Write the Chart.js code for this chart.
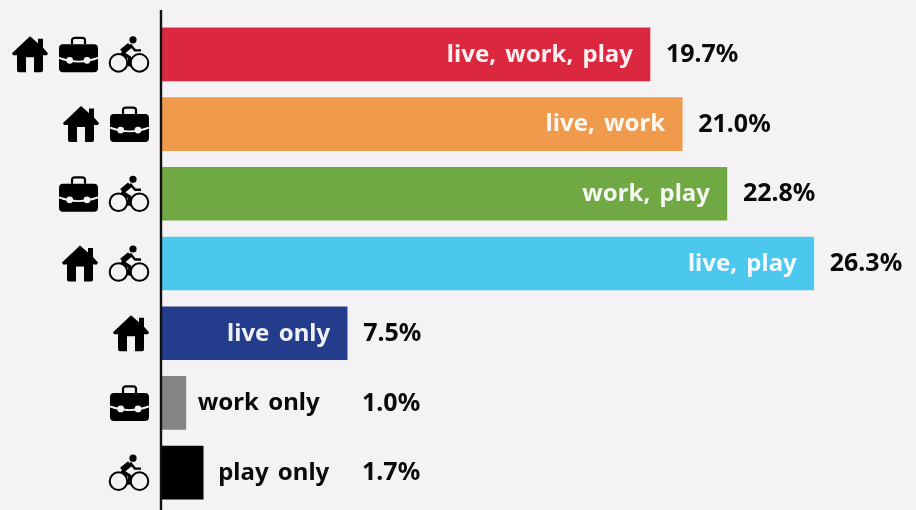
<!DOCTYPE html>
<html>
<head>
<meta charset="utf-8">
<script src="https://cdn.jsdelivr.net/npm/chart.js@4/dist/chart.umd.min.js"></script>
<style>
html, body { margin: 0; padding: 0; background: #f4f2f4; }
#wrap { width: 916px; height: 510px; position: relative; }
</style>
</head>
<body>
<div id="wrap"><canvas id="chart"></canvas></div>
<script>
const labels = ['live, work, play', 'live, work', 'work, play', 'live, play', 'live only', 'work only', 'play only'];
const values = [19.7, 21.0, 22.8, 26.3, 7.5, 1.0, 1.7];
const colors = ['#dc283e', '#f09a4b', '#70a944', '#4cc8ee', '#243c8c', '#838583', '#000000'];
const rowIcons = [['house', 'case', 'bike'], ['house', 'case'], ['case', 'bike'], ['house', 'bike'], ['house'], ['case'], ['bike']];

const BG = '#f4f2f4';
const LABEL_FONT = '700 24px "Noto Sans"';
const VALUE_FONT = '700 25px "Noto Sans"';
const ICON_W = { house: 36, case: 39, bike: 40 };

function drawHouse(c) {
    c.fillStyle = '#000';
    c.beginPath();
    c.moveTo(18, 0); c.lineTo(26, 7); c.lineTo(26, 2.5); c.lineTo(31, 2.5); c.lineTo(31, 11.5);
    c.lineTo(36, 17); c.lineTo(35, 19); c.lineTo(31, 19); c.lineTo(31, 34);
    c.quadraticCurveTo(31, 36, 29, 36); c.lineTo(22, 36); c.lineTo(22, 21); c.lineTo(14, 21); c.lineTo(14, 36);
    c.lineTo(7, 36); c.quadraticCurveTo(5, 36, 5, 34); c.lineTo(5, 19); c.lineTo(1, 19); c.lineTo(0, 17);
    c.closePath();
    c.fill();
}

function drawCase(c) {
    c.strokeStyle = '#000';
    c.lineWidth = 2.2;
    c.beginPath();
    c.moveTo(13, 8); c.lineTo(13, 4); c.quadraticCurveTo(13, 1.5, 16, 1.5); c.lineTo(23, 1.5);
    c.quadraticCurveTo(26, 1.5, 26, 4); c.lineTo(26, 8);
    c.stroke();
    c.fillStyle = '#000';
    c.beginPath();
    c.roundRect(0, 8, 39, 28, 4);
    c.fill();
    c.strokeStyle = BG;
    c.lineWidth = 1.8;
    c.beginPath();
    c.moveTo(0, 21.5); c.quadraticCurveTo(19.5, 29, 39, 21.5);
    c.stroke();
    c.fillStyle = BG;
    [10.7, 28].forEach(x => { c.beginPath(); c.arc(x, 24, 3.4, 0, Math.PI * 2); c.fill(); });
}

function drawBike(c) {
    c.strokeStyle = '#000';
    c.fillStyle = '#000';
    c.lineWidth = 2;
    [9.5, 30.5].forEach(x => { c.beginPath(); c.arc(x, 26.5, 8.8, 0, Math.PI * 2); c.stroke(); });
    c.beginPath(); c.arc(24, 3.5, 3.6, 0, Math.PI * 2); c.fill();
    c.lineJoin = 'round';
    c.lineWidth = 6;
    c.beginPath(); c.moveTo(21, 9); c.lineTo(13, 15.5); c.stroke();
    c.lineWidth = 3.4;
    c.beginPath(); c.moveTo(12.5, 16); c.lineTo(21, 21.5); c.lineTo(20, 30); c.stroke();
    c.lineWidth = 2.4;
    c.beginPath(); c.moveTo(21, 8); c.lineTo(26, 14); c.lineTo(32, 14); c.stroke();
}

const ICONS = { house: drawHouse, case: drawCase, bike: drawBike };

// axis line, row icons and the two text labels on each bar
const decorPlugin = {
    id: 'decor',
    afterDatasetsDraw(chart) {
        const c = chart.ctx, xs = chart.scales.x, ys = chart.scales.y;
        c.save();
        c.strokeStyle = '#111';
        c.lineWidth = 2.4;
        c.beginPath(); c.moveTo(xs.getPixelForValue(0), 10); c.lineTo(xs.getPixelForValue(0), 510); c.stroke();

        labels.forEach((label, i) => {
            const yc = ys.getPixelForValue(i), end = xs.getPixelForValue(values[i]);
            c.textBaseline = 'middle';
            c.font = LABEL_FONT;
            c.wordSpacing = '3px';
            if (values[i] > 5) {
                c.fillStyle = 'rgba(255,255,255,0.93)';
                c.textAlign = 'right';
                c.fillText(label, end - 17, yc + 0.5);
            } else {
                c.fillStyle = '#0a0a0a';
                c.textAlign = 'left';
                c.fillText(label, end + (i === 5 ? 12 : 15), yc + 0.5);
            }
            c.font = VALUE_FONT;
            c.fillStyle = '#0a0a0a';
            c.textAlign = 'left';
            c.fillText(values[i].toFixed(1) + '%', Math.max(end + 16, 362), yc + 0.5);

            let right = 149;
            rowIcons[i].slice().reverse().forEach(name => {
                const left = right - ICON_W[name];
                c.save();
                c.translate(left, yc - 18);
                ICONS[name](c);
                c.restore();
                right = left - 11;
            });
        });
        c.restore();
    }
};

new Chart(document.getElementById('chart'), {
    type: 'bar',
    data: {
        labels: labels,
        datasets: [{ data: values, backgroundColor: colors, borderWidth: 0, barThickness: 53 }]
    },
    options: {
        indexAxis: 'y',
        responsive: true, maintainAspectRatio: false,
        animation: false,
        layout: { padding: { left: 161, right: 0, top: 19.5, bottom: 2.5 } },
        plugins: { legend: { display: false }, tooltip: { enabled: false } },
        scales: {
            x: { display: false, min: 0, max: 30.42 },
            y: { display: false }
        }
    },
    plugins: [decorPlugin]
});
</script>
</body>
</html>
